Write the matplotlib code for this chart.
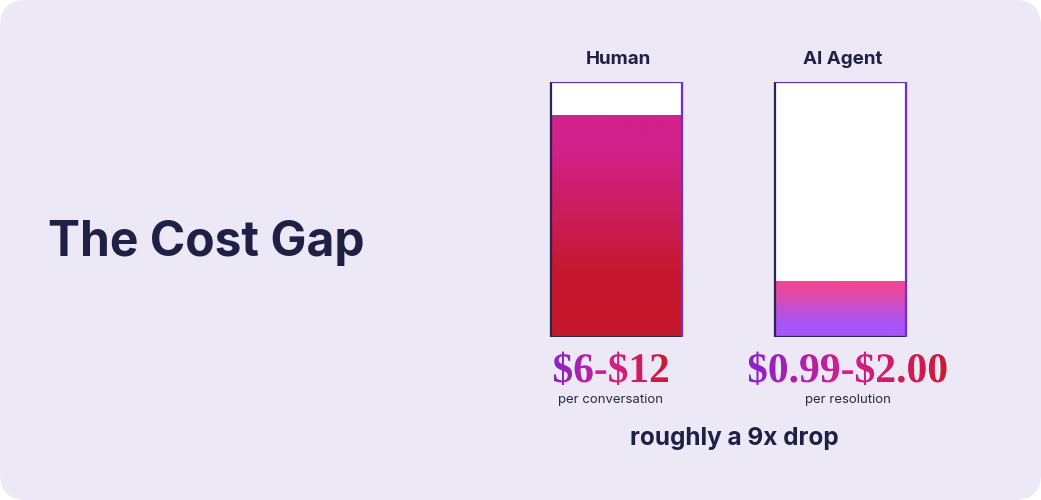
import numpy as np
import matplotlib
matplotlib.use("Agg")
import matplotlib.pyplot as plt
from matplotlib.patches import FancyBboxPatch, PathPatch, Rectangle
from matplotlib.colors import LinearSegmentedColormap
from matplotlib.textpath import TextPath
from matplotlib.font_manager import FontProperties
from matplotlib.transforms import Affine2D

# data
categories = ["Human", "AI Agent"]
fill_pct = [87, 22]
prices = ["$6-$12", "$0.99-$2.00"]
units = ["per conversation", "per resolution"]
title = "The Cost Gap"
note = "roughly a 9x drop"

W, H = 1041, 500
BG = "#ECE8F6"
NAVY = "#1E2145"

fig = plt.figure(figsize=(W / 100, H / 100), dpi=100)
fig.patch.set_facecolor("white")
ax = fig.add_axes([0, 0, 1, 1])
ax.set_axis_off()

card = FancyBboxPatch((0, 0), W, H, boxstyle="round,pad=0,rounding_size=26",
                      facecolor=BG, edgecolor="none")
ax.add_patch(card)

ax.text(48, 243, title, fontsize=34.5, fontweight="bold", family=["Inter", "DejaVu Sans"],
        color=NAVY, ha="left", va="center")


def gradient_text(s, cx, base_y, size, cmap, width=None):
    prop = FontProperties(family=["Liberation Serif", "DejaVu Serif"], weight="bold")
    # escape the dollar signs so they are not read as mathtext
    tp = TextPath((0, 0), s.replace("$", r"\$"), size=size, prop=prop)
    bb = tp.get_extents()
    sx = 1.0 if width is None else width / bb.width
    tr = Affine2D().translate(-bb.x0 - bb.width / 2, 0).scale(sx, -1).translate(cx, base_y)
    path = tr.transform_path(tp)
    patch = PathPatch(path, facecolor="none", edgecolor="none")
    ax.add_patch(patch)
    ext = path.get_extents()
    grad = np.linspace(0, 1, 256).reshape(1, -1)
    im = ax.imshow(grad, cmap=cmap, extent=[ext.x0, ext.x1, ext.y1, ext.y0],
                   aspect="auto", interpolation="bicubic", zorder=3)
    im.set_clip_path(patch)


price_cmap = LinearSegmentedColormap.from_list(
    "price", [(0, "#8A22CC"), (0.5, "#D21F8A"), (1, "#CC1A35")])
price_x = [611, 847.5]
price_w = [114, 198]
for px, pw, p, u in zip(price_x, price_w, prices, units):
    gradient_text(p, px, 382, 42, price_cmap, width=pw)
    ax.text(px, 400, u, fontsize=9.5, family=["Inter", "DejaVu Sans"], color="#2A2A40",
            ha="center", va="center")

ax.text(734, 439, note, fontsize=17.5, fontweight="bold", family=["Inter", "DejaVu Sans"],
        color=NAVY, ha="center", va="center")

ax.set_xlim(0, W)
ax.set_ylim(H, 0)

# bar panel
spacing = 223.5
bw = 131 / spacing
left_px = 616.5 - 0.6 * spacing
bax = fig.add_axes([left_px / W, (H - 337) / H, 2.2 * spacing / W, 255 / H])
bax.set_axis_off()
bax.patch.set_alpha(0)
bax.set_xlim(-0.6, 1.6)
bax.set_ylim(0, 100)

fills = [
    LinearSegmentedColormap.from_list("hum", [(0, "#C5182C"), (0.3, "#C5192F"),
                                              (0.85, "#D2218B"), (1, "#D2218B")]),
    LinearSegmentedColormap.from_list("ai", [(0, "#A855F7"), (0.25, "#A855F7"),
                                             (0.85, "#EC4899"), (1, "#EC4899")]),
]
xs = np.arange(len(categories))
for x, pct, cat, cm in zip(xs, fill_pct, categories, fills):
    bax.add_patch(Rectangle((x - bw / 2, 0), bw, 100, facecolor="white", edgecolor="none", zorder=1))
    bars = bax.bar(x, pct, bw, color="none", zorder=2)
    grad = np.linspace(0, 1, 256).reshape(-1, 1)
    im = bax.imshow(grad, cmap=cm, origin="lower", extent=[x - bw / 2, x + bw / 2, 0, pct],
                    aspect="auto", zorder=2)
    im.set_clip_path(bars[0])
    l, r = x - bw / 2, x + bw / 2
    bax.plot([l, l], [0, 100], color="#2E2650", lw=1.6, zorder=4, solid_capstyle="butt")
    bax.plot([l, r], [0, 0], color="#2E2650", lw=1.6, zorder=4, solid_capstyle="butt")
    bax.plot([l, r], [100, 100], color="#5B2DB8", lw=1.6, zorder=4, solid_capstyle="butt")
    bax.plot([r, r], [0, 100], color="#6A2FD8", lw=1.6, zorder=4, solid_capstyle="butt")
    bax.text(x + 0.01, 109, cat, fontsize=13.5, fontweight="bold",
             family=["Inter", "DejaVu Sans"], color=NAVY, ha="center", va="center", clip_on=False)

bax.set_xlim(-0.6, 1.6)
bax.set_ylim(0, 100)

fig.savefig("out.png", dpi=100, facecolor="white")
